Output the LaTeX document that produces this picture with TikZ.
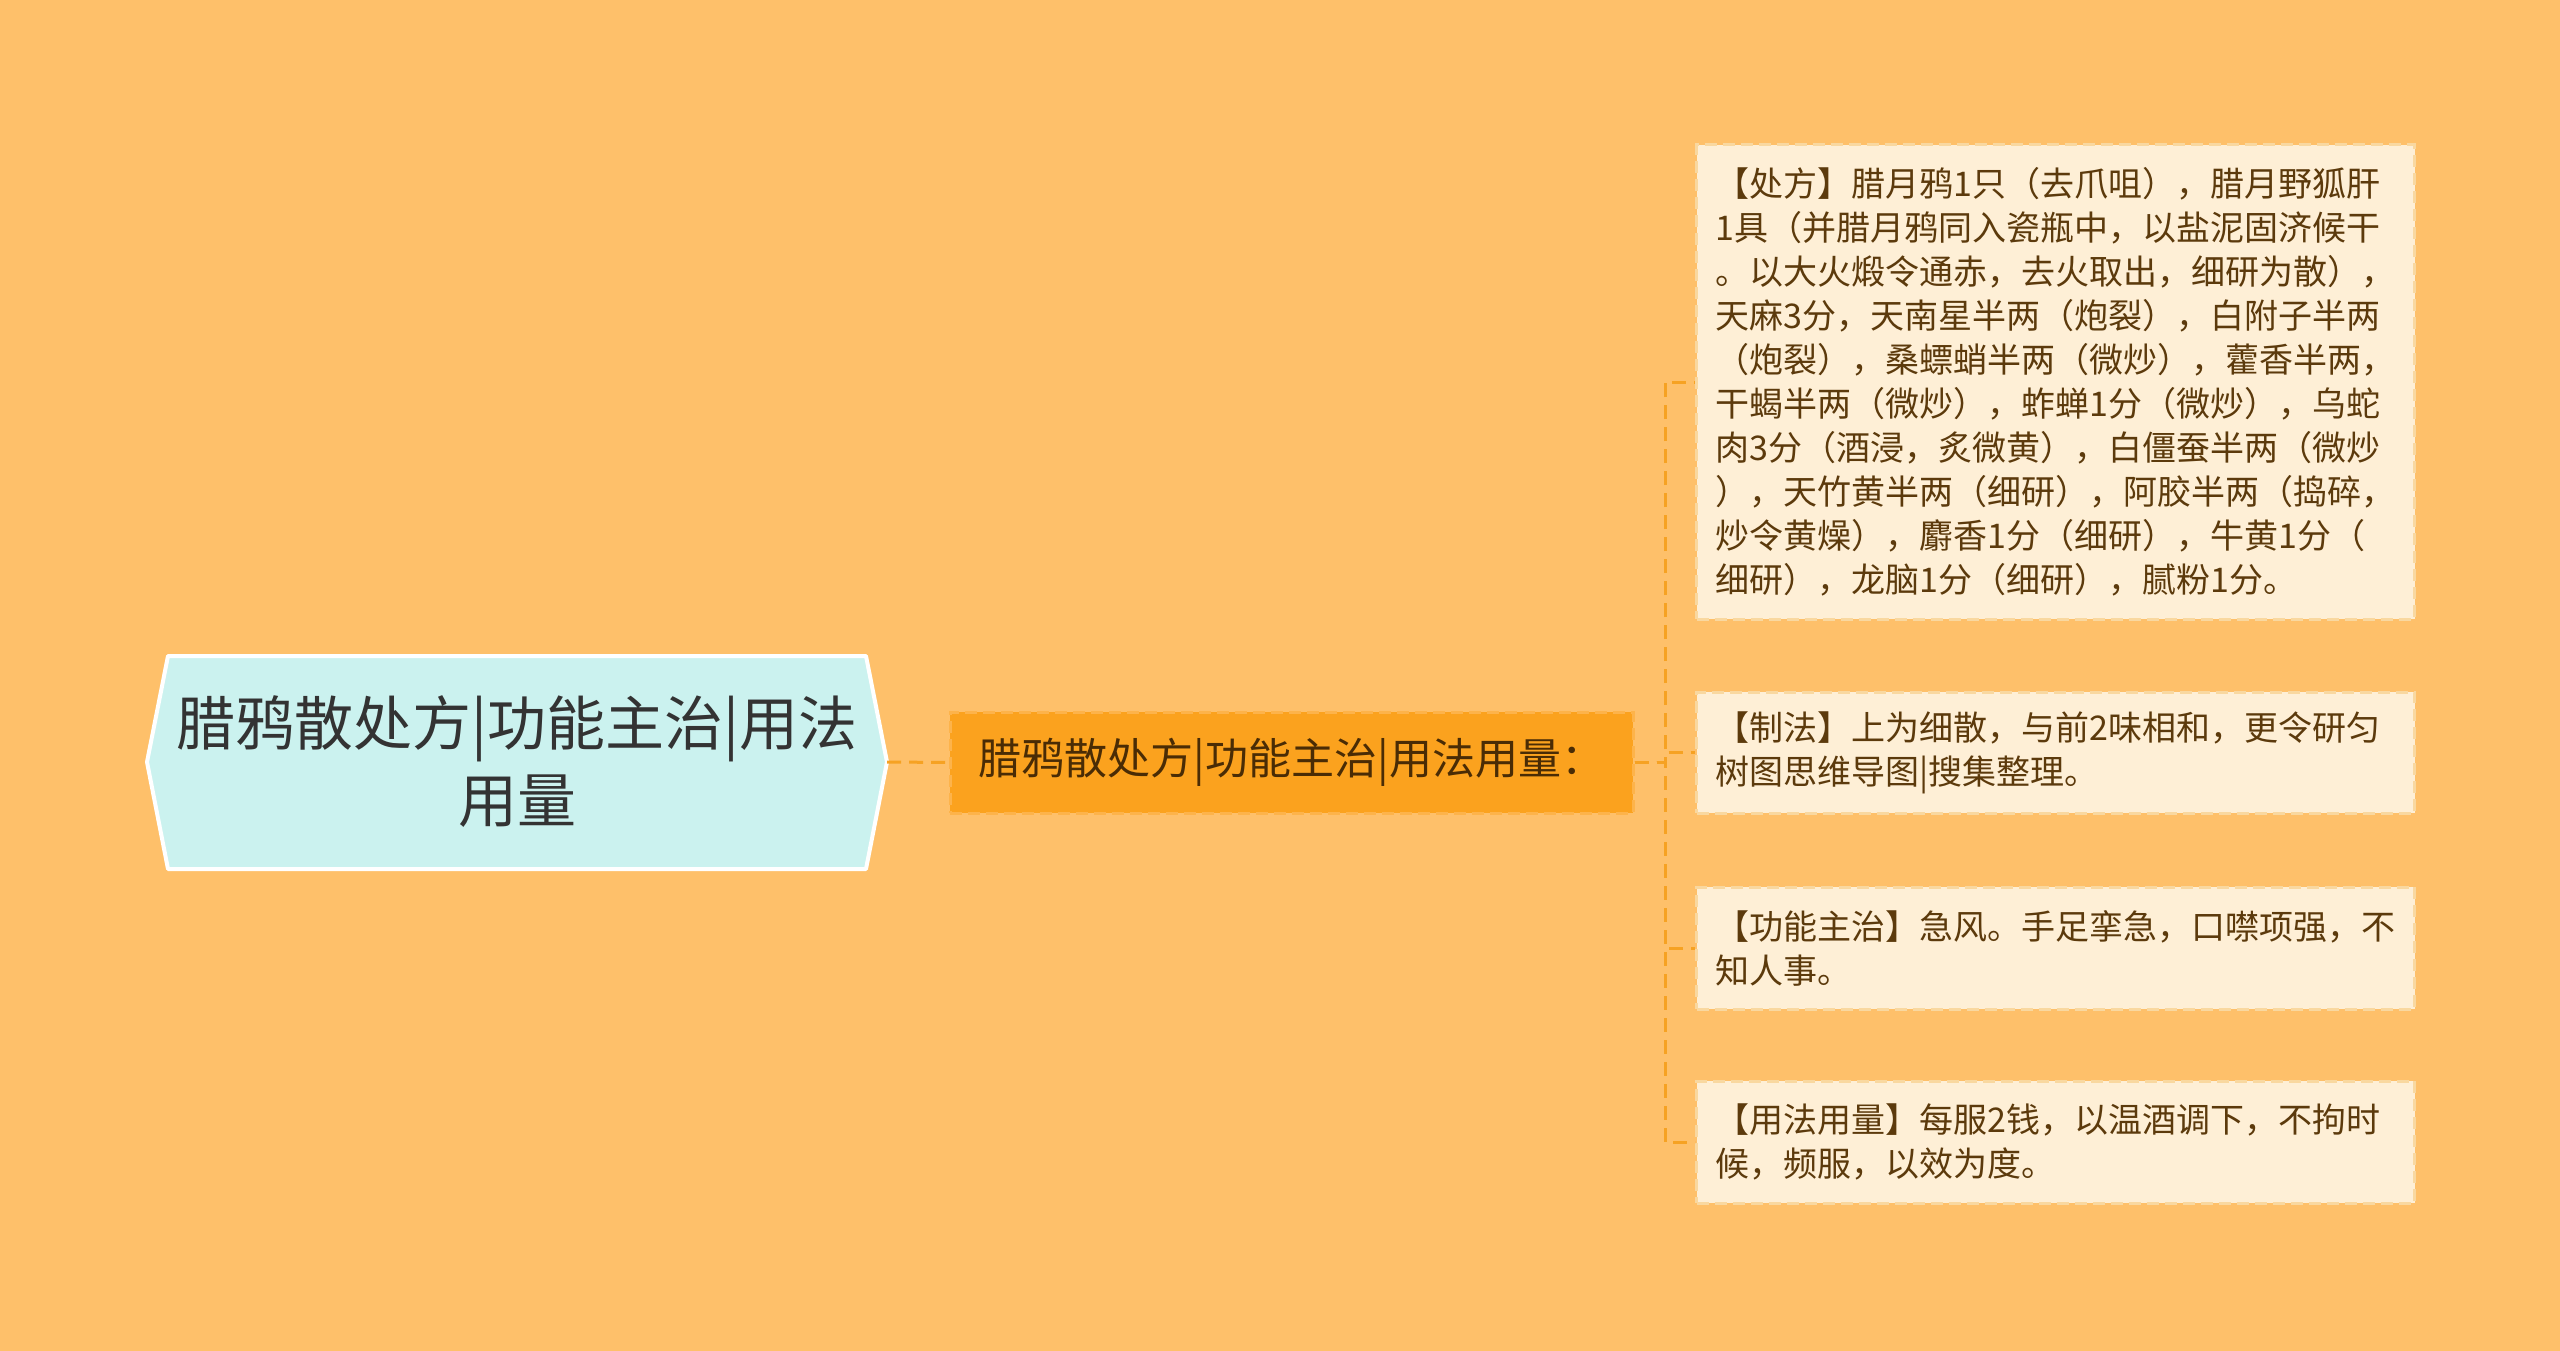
\documentclass[tikz,border=0pt]{standalone}
\usepackage{fontspec}
\setmainfont{Noto Sans CJK SC}
\definecolor{bgc}{HTML}{FEC06A}
\definecolor{rootfill}{HTML}{CBF2EF}
\definecolor{midfill}{HTML}{FBA21E}
\definecolor{midborder}{HTML}{FDB34A}
\definecolor{leaffill}{HTML}{FEEFD6}
\definecolor{leafborder}{HTML}{F9D8A0}
\definecolor{linec}{HTML}{F6A223}
\definecolor{roottext}{HTML}{333333}
\definecolor{midtext}{HTML}{4A2C05}
\definecolor{leaftext}{HTML}{5C3A0C}
\begin{document}
\begin{tikzpicture}[x=1pt,y=-1pt,
  conn/.style={draw=linec, line width=3pt, dash pattern=on 14pt off 8pt},
  roottxt/.style={minimum width=740pt, minimum height=214pt, inner sep=0pt, align=center,
    text=roottext, font=\fontsize{59pt}{77pt}\selectfont},
  midbox/.style={draw=midborder, fill=midfill, line width=3pt, dash pattern=on 12pt off 6pt,
    minimum width=683pt, minimum height=101pt, inner sep=0pt, text=midtext,
    font=\fontsize{43pt}{50pt}\selectfont},
  leafbox/.style={draw=leafborder, fill=leaffill, line width=3pt, dash pattern=on 12pt off 6pt,
    text width=680pt, align=left, inner xsep=19pt, inner ysep=0pt, anchor=west,
    text=leaftext, font=\fontsize{34pt}{44pt}\selectfont}
]
\useasboundingbox (0,0) rectangle (2560,1351);
\fill[bgc] (0,0) rectangle (2560,1351);

% root hexagon
\draw[fill=rootfill, draw=white, line width=4pt, line join=round]
  (147,762) -- (168,656) -- (866,656) -- (887,762) -- (866,869) -- (168,869) -- cycle;
\node[roottxt] (root) at (517,762) {腊鸦散处方|功能主治|用法\\用量};

% middle node
\node[midbox] (mid) at (1291.5,762.5) {腊鸦散处方|功能主治|用法用量：};

% leaves
\node[leafbox, minimum height=474pt] (leaf1) at (1695,382) {%
【处方】腊月鸦1只（去爪咀），腊月野狐肝\\
1具（并腊月鸦同入瓷瓶中，以盐泥固济候干\\
。以大火煅令通赤，去火取出，细研为散），\\
天麻3分，天南星半两（炮裂），白附子半两\\
（炮裂），桑螵蛸半两（微炒），藿香半两，\\
干蝎半两（微炒），蚱蝉1分（微炒），乌蛇\\
肉3分（酒浸，炙微黄），白僵蚕半两（微炒\\
），天竹黄半两（细研），阿胶半两（捣碎，\\
炒令黄燥），麝香1分（细研），牛黄1分（\\
细研），龙脑1分（细研），腻粉1分。};
\node[leafbox, minimum height=121pt] (leaf2) at (1695,752.5) {%
【制法】上为细散，与前2味相和，更令研匀\\
树图思维导图|搜集整理。};
\node[leafbox, minimum height=122pt] (leaf3) at (1695,948) {%
【功能主治】急风。手足挛急，口噤项强，不\\
知人事。};
\node[leafbox, minimum height=122pt] (leaf4) at (1695,1142) {%
【用法用量】每服2钱，以温酒调下，不拘时\\
候，频服，以效为度。};

% connectors
\coordinate (hub) at (1665,762.5);
\draw[conn] (root.east) -- (mid.west);
\draw[conn] (mid.east) -- (hub) |- (leaf1.west);
\draw[conn] (mid.east) -- (hub) |- (leaf2.west);
\draw[conn] (mid.east) -- (hub) |- (leaf3.west);
\draw[conn] (mid.east) -- (hub) |- (leaf4.west);
\end{tikzpicture}
\end{document}
